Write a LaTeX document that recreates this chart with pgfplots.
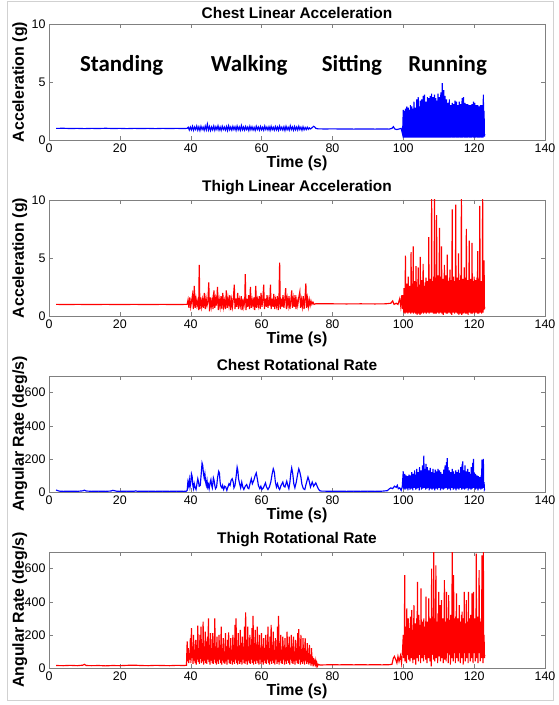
\documentclass[border=0pt]{standalone}
\usepackage{pgfplots}
\pgfplotsset{compat=1.18}
\usepackage{fontspec}
\setmainfont{Liberation Sans}
\newfontfamily\calib{Carlito}

% one panel of the figure, MATLAB look
\pgfplotsset{
  panel/.style={
    width=496bp, height=116bp, scale only axis,
    anchor=south west,
    xmin=0, xmax=140, xtick={0,20,...,140},
    axis line style={black!50},
    tick style={black!50},
    tick align=inside, major tick length=4bp,
    xtick pos=both, ytick pos=both,
    xticklabel pos=lower, yticklabel pos=left,
    ticklabel style={font=\fontsize{12.5}{13}\selectfont, text=black},
    /pgf/number format/assume math mode=true,
    title style={font=\bfseries\fontsize{15.5}{16}\selectfont, yshift=-4bp},
    label style={font=\bfseries\fontsize{16}{17}\selectfont},
    xlabel={Time (s)},
    xlabel style={at={(axis description cs:0.5,-0.2)}, anchor=center},
    ylabel style={at={(axis description cs:-0.059,0.5)}, anchor=center},
    every axis plot/.append style={line width=1.15bp},
  },
  accel/.style={ymin=0, ymax=10, ytick={0,5,10}, ylabel={Acceleration (g)}},
  gyro/.style={ymin=0, ymax=700, ytick={0,200,400,600}, ylabel={Angular Rate (deg/s)}},
}

\begin{document}
\begin{tikzpicture}
\path (0,0) rectangle (556bp,705bp);
\draw[black!18, line width=1bp] (7bp,4bp) rectangle (553bp,703bp);

%% chest linear acceleration
\begin{axis}[panel, accel, at={(49bp,565bp)}, title={Chest Linear Acceleration}]
\addplot[blue] coordinates {
(2,1.0)(4,1.01)(6,0.99)(8,1.0)(10,0.98)(12,1.0)(14,0.99)(16,1.01)(18,0.99)(20,1.0)(22,0.98)(24,1.0)(26,0.99)(28,1.0)(30,0.98)(32,1.0)(34,0.99)(36,1.0)(38,0.99)
(39.0,1.0)(39.3,1.1)(39.6,0.86)(39.9,1.12)(40.2,0.88)(40.5,1.18)(40.8,0.84)(41.1,1.12)(41.4,0.9)(41.7,1.2)(42.0,0.85)(42.3,1.14)(42.6,0.82)(42.9,1.18)(43.2,0.9)(43.5,1.12)(43.8,0.84)(44.1,1.2)(44.4,0.88)(44.7,1.36)(45.0,0.86)(45.3,1.16)(45.6,0.82)(45.9,1.12)(46.2,0.88)(46.5,1.2)(46.8,0.84)(47.1,1.14)(47.4,0.9)(47.7,1.22)(48.0,0.85)(48.3,1.12)(48.6,0.83)(48.9,1.18)(49.2,0.9)(49.5,1.12)(49.8,0.86)(50.1,1.16)(50.4,0.82)(50.7,1.22)(51.0,0.88)(51.3,1.12)(51.6,0.85)(51.9,1.18)(52.2,0.9)(52.5,1.14)(52.8,0.83)(53.1,1.2)(53.4,0.87)(53.7,1.12)(54.0,0.84)(54.3,1.24)(54.6,0.88)(54.9,1.12)(55.2,0.85)(55.5,1.16)(55.8,0.9)(56.1,1.12)(56.4,0.82)(56.7,1.18)(57.0,0.88)(57.3,1.14)(57.6,0.86)(57.9,1.1)(58.2,0.83)(58.5,1.18)(58.8,0.9)(59.1,1.12)(59.4,0.85)(59.7,1.16)(60.0,0.88)(60.3,1.1)(60.6,0.84)(60.9,1.2)(61.2,0.9)(61.5,1.12)(61.8,0.86)(62.1,1.14)(62.4,0.83)(62.7,1.18)(63.0,0.89)(63.3,1.1)(63.6,0.85)(63.9,1.16)(64.2,0.88)(64.5,1.12)(64.8,0.84)(65.1,1.2)(65.4,0.9)(65.7,1.1)(66.0,0.86)(66.3,1.14)(66.6,0.82)(66.9,1.18)(67.2,0.88)(67.5,1.1)(67.8,0.85)(68.1,1.22)(68.4,0.9)(68.7,1.12)(69.0,0.84)(69.3,1.16)(69.6,0.88)(69.9,1.12)(70.2,0.86)(70.5,1.18)(70.8,0.9)(71.1,1.1)(71.4,0.84)(71.7,1.14)(72.0,0.88)(72.3,1.08)(72.6,0.9)(72.9,1.1)(73.2,0.92)(73.5,1.05)(73.8,0.95)(74.1,1.02)(74.4,1.1)(74.7,1.18)(75.0,1.12)(75.3,1.0)
(76,0.96)(78,0.95)(80,0.96)(82,0.95)(84,0.95)(86,0.94)(88,0.95)(90,0.95)(92,0.94)(94,0.95)(96,0.94)(96.8,1.0)(97.2,1.15)(97.6,0.95)(98.2,0.9)(98.8,0.95)(99.4,1.0)(99.8,0.5)
(100.0,2.6)(100.1,0.2)(100.2,2.4)(100.3,0.3)(100.4,2.5)(100.5,0.2)(100.6,2.7)(100.7,0.4)(100.8,2.2)(100.9,0.2)
(101.0,2.9)(101.1,0.3)(101.2,2.5)(101.3,0.2)(101.4,2.8)(101.5,0.4)(101.6,2.3)(101.7,0.2)(101.8,2.6)(101.9,0.3)
(102.0,3.0)(102.1,0.2)(102.2,2.4)(102.3,0.3)(102.4,2.9)(102.5,0.2)(102.6,2.2)(102.7,0.4)(102.8,2.7)(102.9,0.2)
(103.0,3.3)(103.1,0.3)(103.2,2.5)(103.3,0.2)(103.4,2.8)(103.5,0.4)(103.6,2.3)(103.7,0.2)(103.8,3.5)(103.9,0.3)
(104.0,2.6)(104.1,0.2)(104.2,3.7)(104.3,0.3)(104.4,2.4)(104.5,0.2)(104.6,2.9)(104.7,0.4)(104.8,3.4)(104.9,0.2)
(105.0,2.5)(105.1,0.3)(105.2,3.5)(105.3,0.2)(105.4,2.7)(105.5,0.4)(105.6,3.8)(105.7,0.2)(105.8,2.6)(105.9,0.3)
(106.0,3.9)(106.1,0.2)(106.2,2.8)(106.3,0.3)(106.4,3.3)(106.5,0.2)(106.6,2.5)(106.7,0.4)(106.8,3.7)(106.9,0.2)
(107.0,2.9)(107.1,0.3)(107.2,3.6)(107.3,0.2)(107.4,2.6)(107.5,0.4)(107.6,3.8)(107.7,0.2)(107.8,2.7)(107.9,0.3)
(108.0,4.0)(108.1,0.2)(108.2,3.0)(108.3,0.3)(108.4,3.7)(108.5,0.2)(108.6,2.6)(108.7,0.4)(108.8,3.9)(108.9,0.2)
(109.0,2.8)(109.1,0.3)(109.2,3.6)(109.3,0.2)(109.4,2.7)(109.5,0.4)(109.6,3.4)(109.7,0.2)(109.8,4.0)(109.9,0.3)
(110.0,2.9)(110.1,0.2)(110.2,3.7)(110.3,0.3)(110.4,2.8)(110.5,0.2)(110.6,4.1)(110.7,0.4)(110.8,3.0)(110.9,0.2)
(111.0,4.9)(111.1,0.3)(111.2,3.3)(111.3,0.2)(111.4,4.3)(111.5,0.4)(111.6,2.9)(111.7,0.2)(111.8,3.8)(111.9,0.3)
(112.0,2.7)(112.1,0.2)(112.2,3.5)(112.3,0.3)(112.4,2.6)(112.5,0.2)(112.6,3.2)(112.7,0.4)(112.8,2.5)(112.9,0.2)
(113.0,3.5)(113.1,0.3)(113.2,2.4)(113.3,0.2)(113.4,3.0)(113.5,0.4)(113.6,2.6)(113.7,0.2)(113.8,3.2)(113.9,0.3)
(114.0,2.5)(114.1,0.2)(114.2,3.1)(114.3,0.3)(114.4,2.3)(114.5,0.2)(114.6,3.4)(114.7,0.4)(114.8,2.6)(114.9,0.2)
(115.0,3.3)(115.1,0.3)(115.2,2.5)(115.3,0.2)(115.4,3.0)(115.5,0.4)(115.6,2.4)(115.7,0.2)(115.8,3.3)(115.9,0.3)
(116.0,2.6)(116.1,0.2)(116.2,3.1)(116.3,0.3)(116.4,2.4)(116.5,0.2)(116.6,3.6)(116.7,0.4)(116.8,2.7)(116.9,0.2)
(117.0,3.7)(117.1,0.3)(117.2,2.5)(117.3,0.2)(117.4,3.2)(117.5,0.4)(117.6,2.6)(117.7,0.2)(117.8,3.1)(117.9,0.3)
(118.0,2.4)(118.1,0.2)(118.2,3.1)(118.3,0.3)(118.4,2.5)(118.5,0.2)(118.6,3.0)(118.7,0.4)(118.8,2.3)(118.9,0.2)
(119.0,3.0)(119.1,0.3)(119.2,2.4)(119.3,0.2)(119.4,3.1)(119.5,0.4)(119.6,2.6)(119.7,0.2)(119.8,3.3)(119.9,0.3)
(120.0,2.5)(120.1,0.2)(120.2,3.2)(120.3,0.3)(120.4,2.4)(120.5,0.2)(120.6,3.0)(120.7,0.4)(120.8,2.6)(120.9,0.2)
(121.0,3.0)(121.1,0.3)(121.2,2.3)(121.3,0.2)(121.4,2.9)(121.5,0.4)(121.6,2.5)(121.7,0.2)(121.8,3.0)(121.9,0.3)
(122.0,2.4)(122.1,0.2)(122.2,3.0)(122.3,0.3)(122.4,2.6)(122.5,0.2)(122.6,3.9)(122.7,0.4)(122.8,2.5)(122.9,0.3)(123.0,0.5)
};
\node[font=\calib\bfseries\fontsize{23}{25}\selectfont] at (axis cs:20.5,6.4) {Standing};
\node[font=\calib\bfseries\fontsize{23}{25}\selectfont] at (axis cs:56.5,6.4) {Walking};
\node[font=\calib\bfseries\fontsize{23}{25}\selectfont] at (axis cs:85.5,6.4) {Sitting};
\node[font=\calib\bfseries\fontsize{23}{25}\selectfont] at (axis cs:112.5,6.4) {Running};
\end{axis}

%% thigh linear acceleration
\begin{axis}[panel, accel, at={(49bp,389bp)}, title={Thigh Linear Acceleration}]
\addplot[red] coordinates {
(2,1.0)(5,0.99)(8,1.0)(12,0.99)(16,1.0)(20,0.99)(24,1.0)(28,0.99)(32,1.0)(36,0.99)(38.7,1.0)
(39.0,1.0)(39.25,1.4)(39.5,0.7)(39.75,1.6)(40.0,0.8)(40.25,1.3)(40.5,1.8)(40.75,0.6)(41.0,2.6)(41.25,0.7)(41.5,1.5)(41.75,0.9)(42.0,1.3)(42.25,0.5)(42.4,4.4)(42.6,0.6)(42.85,1.6)(43.1,0.8)(43.35,1.4)(43.6,0.7)(43.85,2.0)(44.1,0.6)(44.35,1.5)(44.6,0.9)(44.85,1.3)(45.1,2.9)(45.3,0.4)(45.55,1.6)(45.8,0.8)(46.05,1.4)(46.3,0.6)(46.55,2.2)(46.8,0.7)(47.05,1.5)(47.3,0.9)(47.55,2.5)(47.8,0.5)(48.05,1.4)(48.3,0.8)(48.55,1.7)(48.8,0.6)(49.05,2.0)(49.3,0.8)(49.55,1.3)(49.8,0.6)(50.05,2.2)(50.3,0.7)(50.55,1.5)(50.8,0.9)(51.05,1.8)(51.3,0.5)(51.55,1.4)(51.8,0.8)(52.05,1.6)(52.3,2.7)(52.5,0.6)(52.75,1.5)(53.0,0.8)(53.25,2.0)(53.5,0.6)(53.75,1.4)(54.0,0.9)(54.25,1.7)(54.5,0.5)(54.75,1.5)(55.0,0.8)(55.25,1.3)(55.4,3.6)(55.6,0.5)(55.85,1.5)(56.1,0.8)(56.35,1.8)(56.6,0.6)(56.85,2.5)(57.1,0.7)(57.35,1.4)(57.6,0.9)(57.85,1.6)(58.1,0.5)(58.35,2.6)(58.6,0.7)(58.85,1.4)(59.1,0.9)(59.35,1.7)(59.6,0.6)(59.85,2.0)(60.1,0.8)(60.35,1.4)(60.6,2.7)(60.8,0.6)(61.05,1.5)(61.3,0.8)(61.55,1.8)(61.8,0.7)(62.05,1.4)(62.3,0.9)(62.5,2.7)(62.7,0.6)(62.95,1.5)(63.2,0.8)(63.45,1.9)(63.7,0.6)(63.95,1.4)(64.2,0.9)(64.45,1.7)(64.7,0.5)(64.9,1.3)(65.1,4.6)(65.3,0.6)(65.55,1.5)(65.8,0.8)(66.05,1.8)(66.3,0.7)(66.55,1.4)(66.8,2.4)(67.0,0.6)(67.25,1.5)(67.5,0.9)(67.75,1.7)(68.0,0.6)(68.25,1.3)(68.5,2.2)(68.7,0.7)(68.95,1.5)(69.2,0.8)(69.45,1.8)(69.7,0.6)(69.95,1.4)(70.2,0.9)(70.5,1.6)(70.8,2.1)(71.0,0.7)(71.25,1.4)(71.5,0.8)(71.75,1.7)(72.0,0.6)(72.25,1.4)(72.5,2.8)(72.7,0.7)(72.95,1.5)(73.2,0.8)(73.45,1.4)(73.7,0.9)(73.95,1.3)(74.2,1.0)(74.5,1.2)(74.8,1.0)(75.2,1.05)
(76,1.05)(80,1.05)(84,1.04)(88,1.05)(92,1.04)(95,1.05)(96.5,1.1)(97,1.3)(97.4,1.0)(98,1.1)(98.5,1.0)(99,1.5)(99.3,0.8)(99.6,1.8)(99.8,0.6)
(100.0,1.8)(100.1,0.3)(100.2,2.4)(100.3,0.5)(100.4,1.9)(100.5,0.2)(100.6,5.2)(100.7,0.6)(100.8,2.2)(100.9,0.3)
(101.0,2.8)(101.1,0.4)(101.2,1.7)(101.3,0.2)(101.4,3.4)(101.5,0.7)(101.6,2.1)(101.7,0.3)(101.8,2.6)(101.9,0.5)
(102.0,1.9)(102.1,0.2)(102.2,5.5)(102.3,0.6)(102.4,2.3)(102.5,0.3)(102.6,2.8)(102.7,0.4)(102.8,6.0)(102.9,0.2)
(103.0,2.2)(103.1,0.5)(103.2,3.0)(103.3,0.3)(103.4,1.8)(103.5,0.2)(103.6,4.3)(103.7,0.6)(103.8,2.5)(103.9,0.1)
(104.0,2.0)(104.1,0.4)(104.2,4.2)(104.3,0.2)(104.4,2.7)(104.5,0.5)(104.6,1.9)(104.7,0.1)(104.8,5.1)(104.9,0.4)
(105.0,2.4)(105.1,0.2)(105.2,3.1)(105.3,0.6)(105.4,2.0)(105.5,0.3)(105.6,4.5)(105.7,0.2)(105.8,2.6)(105.9,0.5)
(106.0,2.1)(106.1,0.3)(106.2,2.9)(106.3,0.6)(106.4,3.3)(106.5,0.2)(106.6,2.3)(106.7,0.5)(106.8,3.0)(106.9,0.3)
(107.0,2.2)(107.1,0.4)(107.2,6.8)(107.3,0.2)(107.4,2.7)(107.5,0.6)(107.6,3.2)(107.7,0.3)(107.8,2.4)(107.9,0.5)
(108.0,10.5)(108.1,0.3)(108.2,3.0)(108.3,0.6)(108.4,2.5)(108.5,0.2)(108.6,3.4)(108.7,0.4)(108.8,10.5)(108.9,0.2)
(109.0,2.8)(109.1,0.5)(109.2,3.3)(109.3,0.2)(109.4,8.7)(109.5,0.6)(109.6,2.6)(109.7,0.3)(109.8,3.5)(109.9,0.4)
(110.0,2.4)(110.1,0.2)(110.2,7.6)(110.3,0.5)(110.4,2.9)(110.5,0.3)(110.6,3.4)(110.7,0.6)(110.8,6.0)(110.9,0.2)
(111.0,2.6)(111.1,0.4)(111.2,3.2)(111.3,0.1)(111.4,2.5)(111.5,0.5)(111.6,4.4)(111.7,0.3)(111.8,2.9)(111.9,0.6)
(112.0,3.5)(112.1,0.2)(112.2,2.7)(112.3,0.4)(112.4,5.3)(112.5,0.2)(112.6,3.0)(112.7,0.5)(112.8,2.6)(112.9,0.3)
(113.0,3.3)(113.1,0.6)(113.2,4.0)(113.3,0.2)(113.4,2.8)(113.5,0.4)(113.6,3.1)(113.7,0.1)(113.8,9.2)(113.9,0.5)
(114.0,2.7)(114.1,0.3)(114.2,3.4)(114.3,0.6)(114.4,2.5)(114.5,0.2)(114.6,3.0)(114.7,0.4)(114.8,9.6)(114.9,0.3)
(115.0,2.9)(115.1,0.5)(115.2,3.3)(115.3,0.2)(115.4,2.6)(115.5,0.6)(115.6,5.4)(115.7,0.1)(115.8,3.1)(115.9,0.4)
(116.0,2.8)(116.1,0.2)(116.2,3.5)(116.3,0.5)(116.4,10.5)(116.5,0.1)(116.6,2.9)(116.7,0.4)(116.8,3.2)(116.9,0.2)
(117.0,2.6)(117.1,0.6)(117.2,4.2)(117.3,0.3)(117.4,2.8)(117.5,0.2)(117.6,3.3)(117.7,0.5)(117.8,7.5)(117.9,0.2)
(118.0,2.7)(118.1,0.4)(118.2,3.1)(118.3,0.1)(118.4,2.5)(118.5,0.5)(118.6,6.5)(118.7,0.3)(118.8,2.9)(118.9,0.6)
(119.0,3.2)(119.1,0.2)(119.2,2.6)(119.3,0.4)(119.4,6.3)(119.5,0.2)(119.6,3.0)(119.7,0.5)(119.8,2.4)(119.9,0.3)
(120.0,3.4)(120.1,0.2)(120.2,2.7)(120.3,0.6)(120.4,3.1)(120.5,0.3)(120.6,2.5)(120.7,0.4)(120.8,3.3)(120.9,0.2)
(121.0,5.6)(121.1,0.5)(121.2,2.8)(121.3,0.2)(121.4,3.2)(121.5,0.4)(121.6,9.5)(121.7,0.3)(121.8,2.6)(121.9,0.5)
(122.0,3.0)(122.1,0.2)(122.2,2.7)(122.3,0.6)(122.4,10.5)(122.5,0.3)(122.6,3.4)(122.7,0.5)(122.8,4.8)(122.9,0.6)(123.0,0.8)
};
\end{axis}

%% chest rotational rate
\begin{axis}[panel, gyro, at={(49bp,213bp)}, title={Chest Rotational Rate}]
\addplot[blue] coordinates {
(2,12)(2.5,8)(3,5)(4,4)(6,5)(8,4)(9.5,7)(10,11)(10.5,6)(12,4)(14,5)(16,4)(17.5,6)(18,10)(18.5,8)(19,5)(20,4)(22,5)(24,4)(24.5,7)(25,4)(28,5)(30,4)(32,5)(34,4)(36,5)(38,4)(38.8,5)
(39.0,10)(39.2,60)(39.4,40)(39.6,75)(39.8,30)(40.0,55)(40.2,110)(40.4,95)(40.6,40)(40.8,20)(41.0,50)(41.2,30)(41.5,15)(41.8,55)(42.0,80)(42.2,60)(42.4,35)(42.7,40)(43.0,120)(43.2,175)(43.4,160)(43.6,110)(43.8,85)(44.0,110)(44.2,60)(44.4,40)(44.6,70)(44.8,30)(45.0,45)(45.2,20)(45.5,60)(45.7,75)(45.9,40)(46.1,25)(46.4,85)(46.6,70)(46.8,40)(47.0,20)(47.3,30)(47.6,90)(47.9,125)(48.1,115)(48.3,60)(48.5,35)(48.8,25)(49.0,40)(49.3,15)(49.6,35)(49.9,30)(50.2,10)(50.5,30)(50.8,50)(51.1,40)(51.4,70)(51.7,80)(52.0,60)(52.2,25)(52.5,40)(52.8,90)(53.1,150)(53.3,130)(53.5,80)(53.8,50)(54.1,25)(54.4,60)(54.7,30)
(55.0,15)(55.4,35)(55.8,45)(56.1,25)(56.4,20)(56.8,55)(57.1,80)(57.4,50)(57.8,70)(58.2,100)(58.5,115)(58.8,80)(59.1,40)(59.5,20)(59.8,35)(60.1,15)(60.5,25)(60.8,40)(61.1,55)(61.4,30)(61.8,15)(62.2,30)(62.6,60)(63.0,110)(63.3,140)(63.6,120)(63.9,60)(64.2,30)(64.5,50)(64.8,25)(65.1,15)(65.5,40)(66.0,60)(66.3,35)(66.6,30)(67.1,65)(67.4,40)(67.7,20)(68.0,60)(68.3,120)(68.5,145)(68.8,110)(69.1,50)(69.4,25)(69.8,60)(70.2,110)(70.5,140)(70.8,120)(71.1,90)(71.4,45)(71.8,20)(72.2,15)(72.6,50)(73.1,90)(73.4,70)(73.8,30)(74.3,60)(74.7,35)(75.0,45)(75.3,55)(75.6,40)(76.0,20)(76.4,8)(77,5)
(78,5)(80,4)(82,5)(84,4)(86,5)(88,4)(90,5)(92,4)(94,5)(95.5,8)(96,18)(96.5,25)(97,20)(97.5,35)(98,28)(98.3,40)(98.6,20)(99,25)(99.4,10)(99.7,30)
(100.0,125)(100.1,20)(100.2,90)(100.3,40)(100.4,110)(100.5,15)(100.6,70)(100.7,45)(100.8,100)(100.9,20)
(101.0,60)(101.1,35)(101.2,95)(101.3,10)(101.4,80)(101.5,40)(101.6,105)(101.7,25)(101.8,70)(101.9,15)
(102.0,100)(102.1,45)(102.2,85)(102.3,20)(102.4,120)(102.5,35)(102.6,75)(102.7,10)(102.8,110)(102.9,40)
(103.0,90)(103.1,25)(103.2,130)(103.3,50)(103.4,80)(103.5,15)(103.6,105)(103.7,40)(103.8,140)(103.9,20)
(104.0,95)(104.1,45)(104.2,120)(104.3,25)(104.4,85)(104.5,10)(104.6,150)(104.7,50)(104.8,100)(104.9,30)
(105.0,130)(105.1,15)(105.2,90)(105.3,45)(105.4,160)(105.5,20)(105.6,110)(105.7,40)(105.8,220)(105.9,25)
(106.0,140)(106.1,50)(106.2,95)(106.3,15)(106.4,170)(106.5,40)(106.6,110)(106.7,20)(106.8,150)(106.9,45)
(107.0,90)(107.1,25)(107.2,130)(107.3,10)(107.4,100)(107.5,40)(107.6,145)(107.7,20)(107.8,85)(107.9,50)
(108.0,120)(108.1,15)(108.2,95)(108.3,35)(108.4,140)(108.5,20)(108.6,80)(108.7,45)(108.8,115)(108.9,10)
(109.0,135)(109.1,40)(109.2,90)(109.3,20)(109.4,125)(109.5,50)(109.6,100)(109.7,15)(109.8,140)(109.9,35)
(110.0,85)(110.1,25)(110.2,130)(110.3,45)(110.4,95)(110.5,10)(110.6,120)(110.7,40)(110.8,80)(110.9,20)
(111.0,110)(111.1,50)(111.2,90)(111.3,15)(111.4,135)(111.5,35)(111.6,100)(111.7,20)(111.8,160)(111.9,45)
(112.0,120)(112.1,25)(112.2,180)(112.3,40)(112.4,205)(112.5,15)(112.6,150)(112.7,50)(112.8,110)(112.9,20)
(113.0,130)(113.1,40)(113.2,90)(113.3,10)(113.4,120)(113.5,45)(113.6,100)(113.7,25)(113.8,140)(113.9,35)
(114.0,95)(114.1,15)(114.2,125)(114.3,50)(114.4,85)(114.5,20)(114.6,110)(114.7,40)(114.8,130)(114.9,10)
(115.0,90)(115.1,35)(115.2,120)(115.3,20)(115.4,100)(115.5,45)(115.6,135)(115.7,15)(115.8,95)(115.9,40)
(116.0,115)(116.1,25)(116.2,150)(116.3,50)(116.4,120)(116.5,15)(116.6,170)(116.7,40)(116.8,185)(116.9,20)
(117.0,130)(117.1,45)(117.2,100)(117.3,15)(117.4,160)(117.5,35)(117.6,90)(117.7,20)(117.8,125)(117.9,50)
(118.0,105)(118.1,25)(118.2,140)(118.3,10)(118.4,95)(118.5,40)(118.6,120)(118.7,20)(118.8,80)(118.9,45)
(119.0,110)(119.1,15)(119.2,150)(119.3,35)(119.4,100)(119.5,20)(119.6,175)(119.7,40)(119.8,200)(119.9,25)
(120.0,120)(120.1,50)(120.2,90)(120.3,15)(120.4,110)(120.5,40)(120.6,80)(120.7,20)(120.8,100)(120.9,35)
(121.0,70)(121.1,10)(121.2,95)(121.3,45)(121.4,60)(121.5,20)(121.6,90)(121.7,40)(121.8,75)(121.9,15)
(122.0,100)(122.1,30)(122.2,195)(122.3,20)(122.4,90)(122.5,45)(122.6,200)(122.7,25)(122.8,60)(122.9,15)(123.0,20)
};
\end{axis}

%% thigh rotational rate
\begin{axis}[panel, gyro, at={(49bp,37bp)}, title={Thigh Rotational Rate}]
\addplot[red] coordinates {
(2,15)(4,14)(6,16)(8,14)(9.5,17)(10,22)(10.5,15)(12,14)(14,15)(16,13)(18,15)(20,14)(22,16)(24,17)(26,15)(28,14)(30,16)(32,15)(34,14)(36,16)(38,15)(38.8,16)
(39.0,160)(39.15,40)(39.3,120)(39.45,30)(39.6,90)(39.75,50)(39.9,180)(40.05,30)(40.2,240)(40.35,60)(40.5,130)(40.65,25)(40.8,200)(40.95,45)(41.1,110)(41.25,30)(41.4,170)(41.55,20)(41.7,140)(41.85,50)(42.0,255)(42.15,35)(42.3,120)(42.45,25)(42.6,200)(42.75,55)(42.9,250)(43.05,30)(43.2,150)(43.35,40)(43.5,280)(43.65,20)(43.8,130)(43.95,45)(44.1,220)(44.25,30)(44.4,160)(44.55,25)(44.7,190)(44.85,50)(45.0,300)(45.15,35)(45.3,140)(45.45,20)(45.6,210)(45.75,45)(45.9,120)(46.05,30)(46.2,210)(46.35,25)(46.5,150)(46.65,50)(46.8,300)(46.95,30)(47.1,130)(47.25,20)(47.4,190)(47.55,40)(47.7,110)(47.85,25)(48.0,200)(48.15,50)(48.3,140)(48.45,30)(48.6,250)(48.75,20)(48.9,120)(49.05,45)(49.2,180)(49.35,30)(49.5,100)(49.65,25)(49.8,210)(49.95,40)
(50.1,130)(50.25,20)(50.4,170)(50.55,50)(50.7,215)(50.85,30)(51.0,120)(51.15,25)(51.3,180)(51.45,45)(51.6,110)(51.75,20)(51.9,200)(52.05,35)(52.2,140)(52.35,25)(52.5,260)(52.65,50)(52.8,300)(52.95,30)(53.1,130)(53.25,20)(53.4,210)(53.55,45)(53.7,120)(53.85,25)(54.0,230)(54.15,35)(54.3,150)(54.45,20)(54.6,190)(54.75,50)(54.9,120)(55.05,30)(55.2,250)(55.35,25)(55.5,335)(55.65,40)(55.8,150)(55.95,20)(56.1,250)(56.25,45)(56.4,130)(56.55,30)(56.7,200)(56.85,25)(57.0,140)(57.15,50)(57.3,240)(57.45,30)(57.6,315)(57.75,20)(57.9,150)(58.05,40)(58.2,230)(58.35,25)(58.5,120)(58.65,45)(58.8,250)(58.95,30)(59.1,140)(59.25,20)(59.4,200)(59.55,50)(59.7,110)(59.85,25)
(60.0,210)(60.15,35)(60.3,130)(60.45,20)(60.6,180)(60.75,45)(60.9,100)(61.05,30)(61.2,200)(61.35,25)(61.5,140)(61.65,50)(61.8,250)(61.95,30)(62.1,120)(62.25,20)(62.4,190)(62.55,40)(62.7,260)(62.85,25)(63.0,140)(63.15,45)(63.3,220)(63.45,30)(63.6,110)(63.75,20)(63.9,180)(64.05,50)(64.2,130)(64.35,25)(64.5,250)(64.65,35)(64.8,315)(64.95,20)(65.1,150)(65.25,45)(65.4,200)(65.55,30)(65.7,110)(65.85,25)(66.0,190)(66.15,50)(66.3,130)(66.45,20)(66.6,180)(66.75,40)(66.9,100)(67.05,25)(67.2,220)(67.35,45)(67.5,140)(67.65,30)(67.8,190)(67.95,20)(68.1,110)(68.25,50)(68.4,200)(68.55,30)(68.7,130)(68.85,25)(69.0,190)(69.15,40)(69.3,100)(69.45,20)(69.6,170)(69.75,45)(69.9,120)
(70.05,30)(70.2,210)(70.35,25)(70.5,235)(70.65,50)(70.8,130)(70.95,20)(71.1,200)(71.25,35)(71.4,110)(71.55,25)(71.7,180)(71.85,40)(72.0,120)(72.15,20)(72.3,180)(72.45,45)(72.6,100)(72.75,25)(72.9,150)(73.05,35)(73.2,90)(73.35,20)(73.5,140)(73.65,30)(73.8,80)(73.95,15)(74.1,120)(74.25,25)(74.4,70)(74.55,10)(74.7,60)(74.85,20)(75.0,50)(75.15,10)(75.3,40)(75.45,15)(75.6,30)(75.8,12)(76.0,22)(76.5,18)
(78,19)(80,20)(82,19)(84,20)(86,19)(88,20)(90,19)(92,20)(94,19)(96,20)(96.8,22)(97.2,60)(97.5,70)(97.8,55)(98.2,30)(98.5,70)(98.8,40)(99.2,75)(99.5,30)(99.8,110)
(100.0,200)(100.1,60)(100.2,170)(100.3,100)(100.4,560)(100.5,40)(100.6,250)(100.7,90)(100.8,190)(100.9,30)
(101.0,360)(101.1,80)(101.2,210)(101.3,120)(101.4,300)(101.5,50)(101.6,180)(101.7,100)(101.8,240)(101.9,40)
(102.0,310)(102.1,90)(102.2,200)(102.3,60)(102.4,350)(102.5,110)(102.6,230)(102.7,30)(102.8,190)(102.9,80)
(103.0,380)(103.1,50)(103.2,220)(103.3,100)(103.4,270)(103.5,20)(103.6,200)(103.7,90)(103.8,300)(103.9,60)
(104.0,520)(104.1,110)(104.2,240)(104.3,40)(104.4,320)(104.5,80)(104.6,190)(104.7,120)(104.8,260)(104.9,30)
(105.0,480)(105.1,90)(105.2,230)(105.3,60)(105.4,280)(105.5,110)(105.6,200)(105.7,40)(105.8,300)(105.9,80)
(106.0,250)(106.1,120)(106.2,210)(106.3,50)(106.4,430)(106.5,90)(106.6,240)(106.7,30)(106.8,280)(106.9,100)
(107.0,220)(107.1,60)(107.2,420)(107.3,110)(107.4,260)(107.5,40)(107.6,300)(107.7,90)(107.8,230)(107.9,10)
(108.0,600)(108.1,80)(108.2,270)(108.3,120)(108.4,310)(108.5,50)(108.6,700)(108.7,100)(108.8,250)(108.9,40)
(109.0,300)(109.1,90)(109.2,620)(109.3,60)(109.4,280)(109.5,120)(109.6,240)(109.7,30)(109.8,330)(109.9,100)
(110.0,460)(110.1,70)(110.2,260)(110.3,110)(110.4,380)(110.5,40)(110.6,290)(110.7,90)(110.8,410)(110.9,60)
(111.0,250)(111.1,120)(111.2,300)(111.3,30)(111.4,270)(111.5,100)(111.6,530)(111.7,50)(111.8,280)(111.9,110)
(112.0,240)(112.1,40)(112.2,460)(112.3,90)(112.4,300)(112.5,120)(112.6,260)(112.7,30)(112.8,440)(112.9,80)
(113.0,290)(113.1,110)(113.2,250)(113.3,20)(113.4,320)(113.5,100)(113.6,270)(113.7,60)(113.8,700)(113.9,120)
(114.0,280)(114.1,40)(114.2,560)(114.3,90)(114.4,300)(114.5,110)(114.6,250)(114.7,30)(114.8,310)(114.9,100)
(115.0,450)(115.1,60)(115.2,270)(115.3,120)(115.4,300)(115.5,40)(115.6,240)(115.7,90)(115.8,380)(115.9,110)
(116.0,280)(116.1,30)(116.2,250)(116.3,100)(116.4,320)(116.5,60)(116.6,340)(116.7,120)(116.8,260)(116.9,20)
(117.0,300)(117.1,90)(117.2,460)(117.3,110)(117.4,270)(117.5,40)(117.6,240)(117.7,100)(117.8,410)(117.9,60)
(118.0,280)(118.1,120)(118.2,250)(118.3,30)(118.4,460)(118.5,90)(118.6,300)(118.7,110)(118.8,260)(118.9,40)
(119.0,320)(119.1,100)(119.2,240)(119.3,60)(119.4,450)(119.5,120)(119.6,280)(119.7,30)(119.8,460)(119.9,90)
(120.0,250)(120.1,110)(120.2,300)(120.3,40)(120.4,270)(120.5,100)(120.6,690)(120.7,60)(120.8,240)(120.9,120)
(121.0,310)(121.1,30)(121.2,260)(121.3,90)(121.4,590)(121.5,110)(121.6,280)(121.7,40)(121.8,250)(121.9,100)
(122.0,300)(122.1,60)(122.2,680)(122.3,120)(122.4,270)(122.5,30)(122.6,700)(122.7,90)(122.8,200)(122.9,60)(123.0,80)
};
\end{axis}
\end{tikzpicture}
\end{document}
